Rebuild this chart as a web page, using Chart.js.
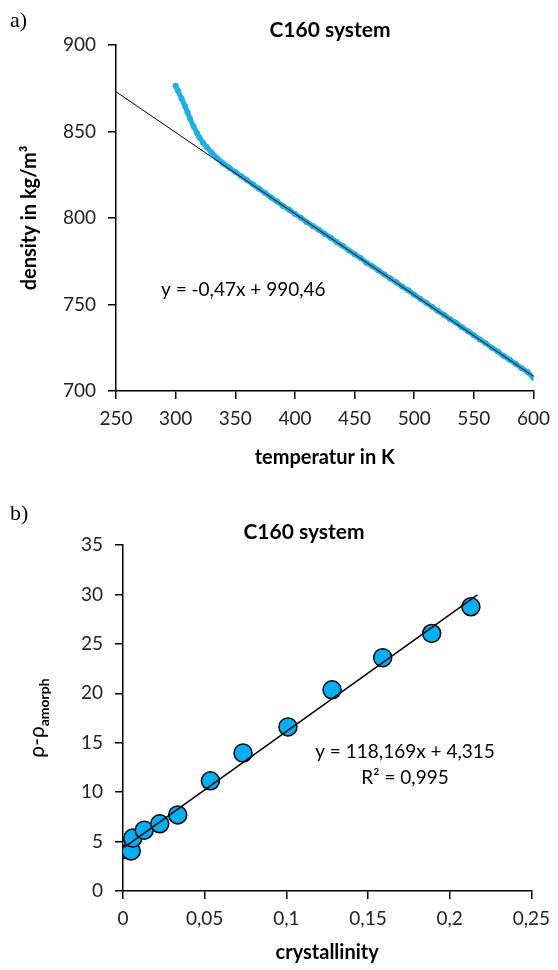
<!DOCTYPE html>
<html>
<head>
<meta charset="utf-8">
<script src="https://cdn.jsdelivr.net/npm/chart.js@4.4.0/dist/chart.umd.min.js"></script>
<style>
  body { margin: 0; background: #fff; }
  #wrap { position: relative; width: 558px; height: 970px; }
  .panel { position: absolute; left: 0; width: 558px; height: 480px; }
  .tag { position: absolute; left: 10px; font-family: "Liberation Serif", serif; font-size: 22px; color: #000; line-height: 1; }
</style>
</head>
<body>
<div id="wrap">
  <div class="panel" style="top:0"><canvas id="densityChart"></canvas></div>
  <div class="panel" style="top:490px"><canvas id="crystChart"></canvas></div>
  <div class="tag" style="top:9px">a)</div>
  <div class="tag" style="top:502px">b)</div>
</div>
<script>
// a) density vs temperature
const tempK = [300, 302, 305, 308, 310, 312, 315, 318, 320, 323, 326, 330, 335, 340, 345, 350, 355, 360, 365, 370, 375,
    380, 385, 390, 395, 400, 405, 410, 415, 420, 425, 430, 435, 440, 445, 450, 455, 460, 465, 470, 475,
    480, 485, 490, 495, 500, 505, 510, 515, 520, 525, 530, 535, 540, 545, 550, 555, 560, 565, 570, 575,
    580, 585, 590, 595, 600];
const densityVals = [876.5, 873.5, 869.0, 864.5, 861.0, 857.5, 853.0, 849.0, 846.5, 843.5, 841.0, 838.0, 834.5, 831.5, 829.0, 826.6, 824.2, 821.8, 819.3, 816.9, 814.4,
    811.8, 809.6, 807.0, 804.9, 802.3, 800.2, 797.6, 795.4, 793.2, 790.8, 788.6, 786.1, 783.9, 781.4, 779.1, 776.9, 774.2, 772.1, 769.7, 767.3,
    765.0, 762.8, 760.3, 758.2, 755.7, 753.3, 751.0, 748.7, 746.2, 744.1, 741.5, 739.4, 736.9, 734.6, 732.2, 729.8, 727.6, 725.0, 722.9, 720.3,
    718.1, 715.8, 713.2, 711.0, 707.5];
const fitTempK = [250, 600];
const fitDensity = [872.96, 708.46];

// b) density difference vs crystallinity
const crystallinity = [0.001, 0.005, 0.006, 0.013, 0.0225, 0.0335, 0.0535, 0.0735, 0.101, 0.128, 0.159, 0.189, 0.213];
const rhoDiff = [4.2, 4.05, 5.35, 6.15, 6.8, 7.7, 11.15, 13.95, 16.6, 20.35, 23.6, 26.05, 28.75];
const crystTickLabels = ['0', '0,05', '0,1', '0,15', '0,2', '0,25'];
const fitCryst = [0.001, 0.217];
const fitRho = [4.43, 29.96];

Chart.defaults.font.family = 'Lato, "Open Sans", sans-serif';
Chart.defaults.color = '#222';
Chart.defaults.animation = false;

const toXY = (xs, ys) => xs.map((x, i) => ({ x: x, y: ys[i] }));

// draws free text (titles, equations) on top of the chart
const textPlugin = {
    id: 'panelText',
    afterDraw(chart, args, opts) {
        const ctx = chart.ctx;
        (opts.items || []).forEach(it => {
            ctx.save();
            ctx.font = it.font;
            ctx.fillStyle = '#000';
            ctx.textAlign = it.align || 'center';
            ctx.textBaseline = 'middle';
            ctx.fillText(it.text, it.x, it.y);
            ctx.restore();
        });
        if (opts.rhoTitle) {
            // rotated y title with subscript
            const a = chart.chartArea;
            ctx.save();
            ctx.translate(opts.rhoTitle.x, (a.top + a.bottom) / 2);
            ctx.rotate(-Math.PI / 2);
            ctx.fillStyle = '#000';
            ctx.textBaseline = 'middle';
            ctx.font = '21px Lato, sans-serif';
            const main = 'ρ-ρ';
            const w1 = ctx.measureText(main).width;
            ctx.font = 'bold 14px Lato, sans-serif';
            const w2 = ctx.measureText('amorph').width;
            const start = -(w1 + w2) / 2;
            ctx.font = '21px Lato, sans-serif';
            ctx.fillText(main, start, 0);
            ctx.font = 'bold 14px Lato, sans-serif';
            ctx.fillText('amorph', start + w1, 7);
            ctx.restore();
        }
    }
};

function axis(min, max, step, fitSize, horizontal) {
    return {
        type: 'linear',
        min: min,
        max: max,
        border: { display: true, color: '#000', width: 1.5 },
        grid: { display: true, drawOnChartArea: false, drawTicks: true, tickLength: 8, color: '#000', lineWidth: 1.5 },
        ticks: { stepSize: step, padding: horizontal ? 8 : 12, font: { size: 19 }, color: '#222' },
        afterFit: function(scale) {
            if (horizontal) scale.height = fitSize; else scale.width = fitSize;
        }
    };
}

// Chart a)
const densX = axis(250, 600, 50, 89, true);
densX.title = { display: true, text: 'temperatur in K', font: { size: 20, weight: 'bold' }, color: '#000', padding: { top: 0, bottom: 10 } };
const densY = axis(700, 900, 50, 116, false);
densY.title = { display: true, text: 'density in kg/m³', font: { size: 20, weight: 'bold' }, color: '#000', padding: { top: 18, bottom: 0 } };

new Chart(document.getElementById('densityChart').getContext('2d'), {
    type: 'scatter',
    data: {
        datasets: [{
            label: 'fit',
            data: toXY(fitTempK, fitDensity),
            showLine: true,
            borderColor: '#000',
            borderWidth: 1,
            pointRadius: 0,
            order: 0
        }, {
            label: 'density',
            data: toXY(tempK, densityVals),
            showLine: true,
            borderColor: '#1bb0e8',
            borderWidth: 5,
            pointRadius: 3,
            pointBackgroundColor: '#1bb0e8',
            pointBorderWidth: 0,
            order: 1
        }]
    },
    options: {
        responsive: true,
        maintainAspectRatio: false,
        layout: { padding: { top: 45, right: 20, left: 0, bottom: 0 } },
        scales: { x: densX, y: densY },
        plugins: {
            legend: { display: false },
            tooltip: { enabled: false },
            panelText: {
                items: [
                    { text: 'C160 system', x: 330, y: 30, font: 'bold 21px Lato, sans-serif' },
                    { text: 'y = -0,47x + 990,46', x: 161, y: 290, align: 'left', font: '19px Lato, sans-serif' }
                ]
            }
        }
    },
    plugins: [textPlugin]
});

// Chart b)
const crystX = axis(0, 0.25, 0.05, 79, true);
crystX.ticks.callback = (value, index) => crystTickLabels[index];
crystX.title = { display: true, text: 'crystallinity', font: { size: 20, weight: 'bold' }, color: '#000', padding: { top: 0, bottom: 5 } };
const crystY = axis(0, 35, 5, 123, false);

new Chart(document.getElementById('crystChart').getContext('2d'), {
    type: 'scatter',
    data: {
        datasets: [{
            label: 'fit',
            data: toXY(fitCryst, fitRho),
            showLine: true,
            borderColor: '#000',
            borderWidth: 1.5,
            pointRadius: 0,
            order: 0
        }, {
            label: 'rho',
            data: toXY(crystallinity, rhoDiff),
            pointRadius: 9,
            pointBackgroundColor: '#00b0f0',
            pointBorderColor: '#000',
            pointBorderWidth: 1.5,
            order: 1
        }]
    },
    options: {
        responsive: true,
        maintainAspectRatio: false,
        layout: { padding: { top: 55, right: 24, left: 0, bottom: 0 } },
        scales: { x: crystX, y: crystY },
        plugins: {
            legend: { display: false },
            tooltip: { enabled: false },
            panelText: {
                items: [
                    { text: 'C160 system', x: 304, y: 42, font: 'bold 21px Lato, sans-serif' },
                    { text: 'y = 118,169x + 4,315', x: 405, y: 262, font: '19px Lato, sans-serif' },
                    { text: 'R² = 0,995', x: 405, y: 288, font: '19px Lato, sans-serif' }
                ],
                rhoTitle: { x: 37 }
            }
        }
    },
    plugins: [textPlugin]
});
</script>
</body>
</html>
